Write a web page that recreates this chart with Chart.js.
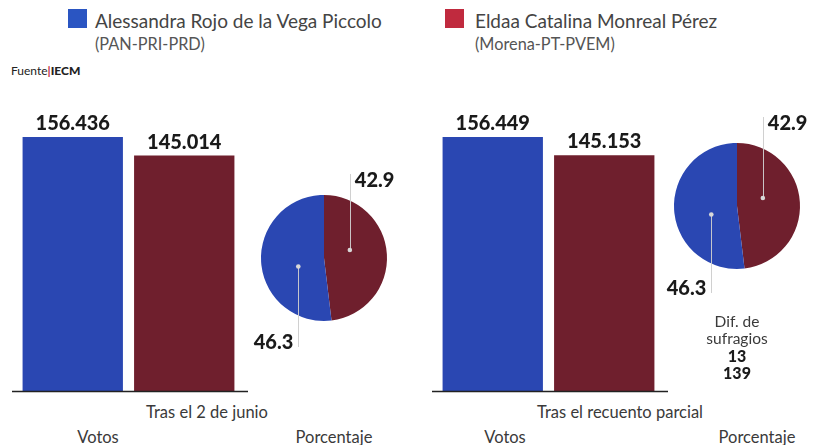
<!DOCTYPE html>
<html>
<head>
<meta charset="utf-8">
<script src="https://cdn.jsdelivr.net/npm/chart.js@4.4.1/dist/chart.umd.min.js"></script>
<style>
  html, body { margin:0; padding:0; width:813px; height:445px; overflow:hidden; background:#ffffff; }
  body { position:relative; font-family: Lato, "Open Sans", sans-serif; color:#333; }
  .box { position:absolute; }
  .t { position:absolute; white-space:nowrap; transform:translate(-50%,-50%); }
  .sq { position:absolute; width:19px; height:19px; }
  .name { position:absolute; font-size:19px; color:#444; white-space:nowrap; transform:translateY(-50%); }
  .coal { position:absolute; font-size:16.3px; color:#555; white-space:nowrap; transform:translateY(-50%); }
</style>
</head>
<body>
<div id="legend"></div>
<div class="t" style="left:11px;top:70px;transform:translateY(-50%);font-size:12px;color:#222;">Fuente<span style="color:#c0283a;font-weight:700;">|</span><b style="font-weight:900;">IECM</b></div>

<div class="box" style="left:0px;top:90px;width:260px;height:310px;"><canvas id="bar1" width="260" height="310"></canvas></div>
<div class="box" style="left:420px;top:90px;width:260px;height:310px;"><canvas id="bar2" width="260" height="310"></canvas></div>
<div class="box" style="left:234px;top:158px;width:180px;height:200px;"><canvas id="pie1" width="180" height="200"></canvas></div>
<div class="box" style="left:647px;top:106px;width:180px;height:200px;"><canvas id="pie2" width="180" height="200"></canvas></div>

<div id="texts"></div>

<script>
// ---- data ----
const candidates = ['Alessandra Rojo de la Vega Piccolo', 'Eldaa Catalina Monreal Pérez'];
const coalitions = ['(PAN-PRI-PRD)', '(Morena-PT-PVEM)'];
const votesJunio = [156436, 145014];
const votesRecuento = [156449, 145153];
const pctJunio = [46.3, 42.9];
const pctRecuento = [46.3, 42.9];
const panelTitles = ['Tras el 2 de junio', 'Tras el recuento parcial'];
const axisNames = ['Votos', 'Porcentaje'];
const difLines = ['Dif. de', 'sufragios'];
const difValues = ['13', '139'];

// ---- styles ----
const barColors = ['#2a47b2', '#6f1f2d'];
const legendColors = ['#2a55c2', '#c02a3e'];
const numFont = '900 20px Lato, "Open Sans", sans-serif';

function fmt(n) { return String(n).replace(/\B(?=(\d{3})+(?!\d))/g, '.'); }

// legend
const legend = document.getElementById('legend');
const legX = [68, 445];
const legTextX = [95, 475];
candidates.forEach((c, i) => {
  legend.insertAdjacentHTML('beforeend',
    `<div class="sq" style="left:${legX[i]}px;top:9px;background:${legendColors[i]}"></div>
     <div class="name" style="left:${legTextX[i]}px;top:20px;">${c}</div>
     <div class="coal" style="left:${legTextX[i]}px;top:43px;">${coalitions[i]}</div>`);
});

// bottom texts
const texts = document.getElementById('texts');
function addText(txt, x, y, style) {
  texts.insertAdjacentHTML('beforeend', `<div class="t" style="left:${x}px;top:${y}px;${style || ''}">${txt}</div>`);
}
const lbl = 'font-size:16.5px;color:#3a3a3a;';
addText(panelTitles[0], 207, 412, lbl);
addText(panelTitles[1], 620, 412, lbl);
addText(axisNames[0], 98, 437, lbl);
addText(axisNames[1], 334, 437, lbl);
addText(axisNames[0], 505, 437, lbl);
addText(axisNames[1], 757, 437, lbl);
addText(difLines[0], 737, 321, 'font-size:15.5px;color:#3a3a3a;');
addText(difLines[1], 737, 338, 'font-size:15.5px;color:#3a3a3a;');
addText(difValues[0], 737, 355, 'font-size:16px;font-weight:900;color:#1a1a1a;');
addText(difValues[1], 737, 372, 'font-size:16px;font-weight:900;color:#1a1a1a;');

// ---- plugins ----
const barDeco = {
  id: 'barDeco',
  afterDatasetsDraw(chart) {
    const ctx = chart.ctx;
    const a = chart.chartArea;
    ctx.save();
    ctx.strokeStyle = '#222';
    ctx.lineWidth = 1.5;
    ctx.beginPath();
    ctx.moveTo(a.left - 5, a.bottom + 0.5);
    ctx.lineTo(a.right + 8, a.bottom + 0.5);
    ctx.stroke();
    const meta = chart.getDatasetMeta(0);
    const data = chart.data.datasets[0].data;
    ctx.font = numFont;
    ctx.fillStyle = '#1a1a1a';
    ctx.textAlign = 'center';
    ctx.textBaseline = 'alphabetic';
    meta.data.forEach((bar, i) => {
      ctx.fillText(fmt(data[i]), bar.x, bar.y - 7);
    });
    ctx.restore();
  }
};

const pieDeco = {
  id: 'pieDeco',
  afterDatasetsDraw(chart, args, opts) {
    const ctx = chart.ctx;
    const meta = chart.getDatasetMeta(0);
    const data = chart.data.datasets[0].data;
    ctx.save();
    meta.data.forEach((arc, i) => {
      const a = arc.startAngle + 0.42 * (arc.endAngle - arc.startAngle);
      const r = arc.outerRadius * 0.43;
      const px = arc.x + r * Math.cos(a);
      const py = arc.y + r * Math.sin(a);
      const up = i === 0;
      const endY = arc.y + (up ? opts.topEnd : opts.bottomEnd);
      ctx.strokeStyle = 'rgba(205,205,205,0.95)';
      ctx.lineWidth = 1;
      ctx.beginPath();
      ctx.moveTo(Math.round(px) + 0.5, py);
      ctx.lineTo(Math.round(px) + 0.5, endY);
      ctx.stroke();
      ctx.fillStyle = '#d8d8d8';
      ctx.beginPath();
      ctx.arc(px, py, 2.3, 0, Math.PI * 2);
      ctx.fill();
      ctx.font = numFont;
      ctx.fillStyle = '#1a1a1a';
      ctx.textBaseline = 'middle';
      if (up) {
        ctx.textAlign = 'left';
        ctx.fillText(data[i].toFixed(1), px + 5, endY + 7);
      } else {
        ctx.textAlign = 'right';
        ctx.fillText(data[i].toFixed(1), px - 5, endY - 4);
      }
    });
    ctx.restore();
  }
};

function barChart(id, values) {
  return new Chart(document.getElementById(id), {
    type: 'bar',
    data: {
      labels: candidates,
      datasets: [{ data: values, backgroundColor: barColors, borderWidth: 0,
                   barPercentage: 0.9, categoryPercentage: 1.0 }]
    },
    options: {
      responsive: false, animation: false, devicePixelRatio: 1,
      layout: { padding: { left: 17, right: 20, top: 25, bottom: 9 } },
      plugins: { legend: { display: false }, tooltip: { enabled: false } },
      scales: {
        x: { display: false },
        y: { display: false, min: 0, max: 170000 }
      }
    },
    plugins: [barDeco]
  });
}

function pieChart(id, values, topEnd, bottomEnd) {
  // draw order: red slice first from the top, then blue
  return new Chart(document.getElementById(id), {
    type: 'pie',
    data: {
      labels: [candidates[1], candidates[0]],
      datasets: [{ data: [values[1], values[0]],
                   backgroundColor: [barColors[1], barColors[0]],
                   borderWidth: 0, hoverOffset: 0, radius: 63 }]
    },
    options: {
      responsive: false, animation: false, devicePixelRatio: 1,
      layout: { padding: 0 },
      plugins: { legend: { display: false }, tooltip: { enabled: false },
                 pieDeco: { topEnd, bottomEnd } }
    },
    plugins: [pieDeco]
  });
}

barChart('bar1', votesJunio);
barChart('bar2', votesRecuento);
pieChart('pie1', pctJunio, -84, 89);
pieChart('pie2', pctRecuento, -89, 87);
</script>
</body>
</html>
